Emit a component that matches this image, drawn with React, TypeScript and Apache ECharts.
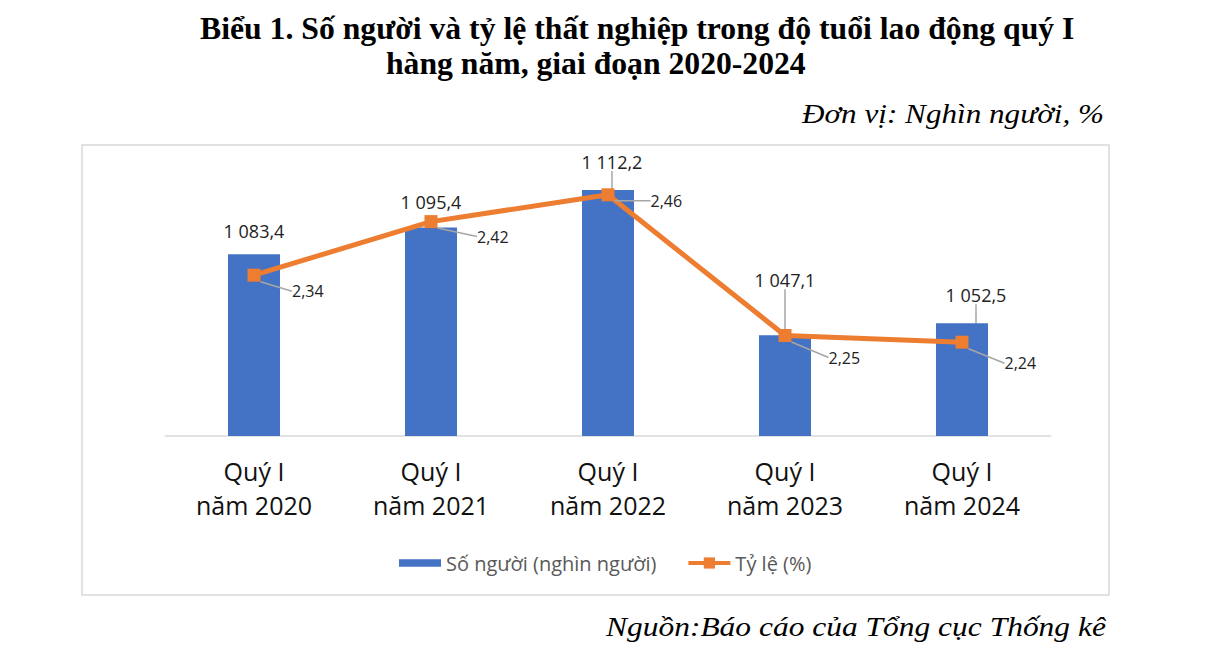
import React, { useEffect, useRef } from "react";
import * as echarts from "echarts";

const categories = [
  "Quý I\nnăm 2020",
  "Quý I\nnăm 2021",
  "Quý I\nnăm 2022",
  "Quý I\nnăm 2023",
  "Quý I\nnăm 2024",
];
const unemployedThousand = [1083.4, 1095.4, 1112.2, 1047.1, 1052.5];
const unemploymentRate = [2.34, 2.42, 2.46, 2.25, 2.24];

const seriesNames = ["Số người (nghìn người)", "Tỷ lệ (%)"];
const titleLines = [
  "Biểu 1. Số người và tỷ lệ thất nghiệp trong độ tuổi lao động quý I",
  "hàng năm, giai đoạn 2020-2024",
];
const unitText = "Đơn vị: Nghìn người, %";
const sourceText = "Nguồn:Báo cáo của Tổng cục Thống kê";

// label layout tweaks (pixels), not data
const barLabelShift = [
  [0, -9],
  [0, -11],
  [4, -14],
  [0, -41],
  [14, -14],
];
const barLeader = [false, false, true, true, true];
const rateLabelShift = [
  [26.5, 16],
  [34.5, 15],
  [31, 6],
  [32, 22],
  [31, 21],
];

function fmtThousand(v: number) {
  const [i, d] = v.toFixed(1).split(".");
  return i.replace(/\B(?=(\d{3})+(?!\d))/g, " ") + "," + d;
}
function fmtRate(v: number) {
  return v.toFixed(2).replace(".", ",");
}

function fitScale(text: string, font: string, target: number) {
  const ctx = document.createElement("canvas").getContext("2d");
  if (!ctx) return 1;
  ctx.font = font;
  const w = ctx.measureText(text).width;
  return w > 0 ? target / w : 1;
}

export default function App() {
  const ref = useRef<HTMLDivElement>(null);

  useEffect(() => {
    if (!ref.current) return;
    const chart = echarts.init(ref.current, undefined, { renderer: "svg" });

    const titleFont = 'bold 32px "Liberation Serif"';
    const italicFont = 'italic 27px "Liberation Serif"';
    const labelFont = "Open Sans";

    const textEl = (
      text: string,
      font: string,
      x: number,
      y: number,
      target: number
    ) => ({
      type: "text",
      x,
      y,
      scaleX: fitScale(text, font, target),
      z: 10,
      style: {
        text,
        x: 0,
        y: 0,
        font,
        fill: "#000",
        textAlign: "left",
        textVerticalAlign: "middle",
        align: "left",
        verticalAlign: "middle",
      },
    });

    const option: any = {
      animation: false,
      backgroundColor: "#fff",
      textStyle: { fontFamily: labelFont },
      graphic: [
        {
          type: "rect",
          z: -1,
          shape: { x: 82, y: 145, width: 1027, height: 450 },
          style: { fill: "none", stroke: "#D9D9D9", lineWidth: 1.5 },
          silent: true,
        },
        textEl(titleLines[0], titleFont, 200, 28, 875),
        textEl(titleLines[1], titleFont, 386, 63, 420),
        textEl(unitText, italicFont, 802, 114, 302),
        textEl(sourceText, italicFont, 606, 627, 500),
      ],
      grid: { left: 165.5, right: 155.5, top: 168, bottom: 219 },
      legend: {
        left: 394,
        top: 548,
        itemWidth: 42,
        itemHeight: 14,
        itemGap: 30,
        textStyle: { fontSize: 20, color: "#595959", fontFamily: labelFont },
        data: [
          { name: seriesNames[0], icon: "path://M0,0H40V7H0Z" },
          { name: seriesNames[1], lineStyle: { width: 4 } },
        ],
      },
      xAxis: {
        type: "category",
        data: categories,
        axisLine: { lineStyle: { color: "#D9D9D9", width: 1.5 } },
        axisTick: { show: false },
        axisLabel: {
          interval: 0,
          fontSize: 25,
          lineHeight: 34,
          margin: 18,
          color: "#111",
          fontFamily: labelFont,
        },
      },
      yAxis: [
        { type: "value", min: 1002, max: 1122, show: false, splitLine: { show: false } },
        { type: "value", min: 2.1, max: 2.5, show: false, splitLine: { show: false } },
      ],
      series: [
        {
          name: seriesNames[0],
          type: "bar",
          yAxisIndex: 0,
          barWidth: 52,
          itemStyle: { color: "#4472C4" },
          data: unemployedThousand.map((v, i) => ({
            value: v,
            labelLine: { show: barLeader[i] },
          })),
          label: {
            show: true,
            position: "top",
            distance: 5,
            fontSize: 18,
            color: "#222",
            fontFamily: labelFont,
            formatter: (p: any) => fmtThousand(p.value),
          },
          labelLine: {
            show: false,
            lineStyle: { color: "#A6A6A6", width: 1.5 },
          },
          labelLayout: (p: any) => ({
            dx: barLabelShift[p.dataIndex][0],
            dy: barLabelShift[p.dataIndex][1],
          }),
          z: 2,
        },
        {
          name: seriesNames[1],
          type: "line",
          yAxisIndex: 1,
          data: unemploymentRate,
          symbol: "rect",
          symbolSize: 13,
          lineStyle: { color: "#ED7D31", width: 5 },
          itemStyle: { color: "#ED7D31" },
          label: {
            show: true,
            position: "right",
            distance: 5,
            fontSize: 16,
            color: "#222",
            fontFamily: labelFont,
            formatter: (p: any) => fmtRate(p.value),
          },
          labelLine: {
            show: true,
            lineStyle: { color: "#A6A6A6", width: 1.5 },
          },
          labelLayout: (p: any) => ({
            dx: rateLabelShift[p.dataIndex][0],
            dy: rateLabelShift[p.dataIndex][1],
          }),
          z: 3,
        },
      ],
    };

    chart.setOption(option);
    return () => chart.dispose();
  }, []);

  return (
    <div
      ref={ref}
      style={{
        position: "absolute",
        left: 0,
        top: 0,
        width: 1206,
        height: 655,
        background: "#fff",
      }}
    />
  );
}
